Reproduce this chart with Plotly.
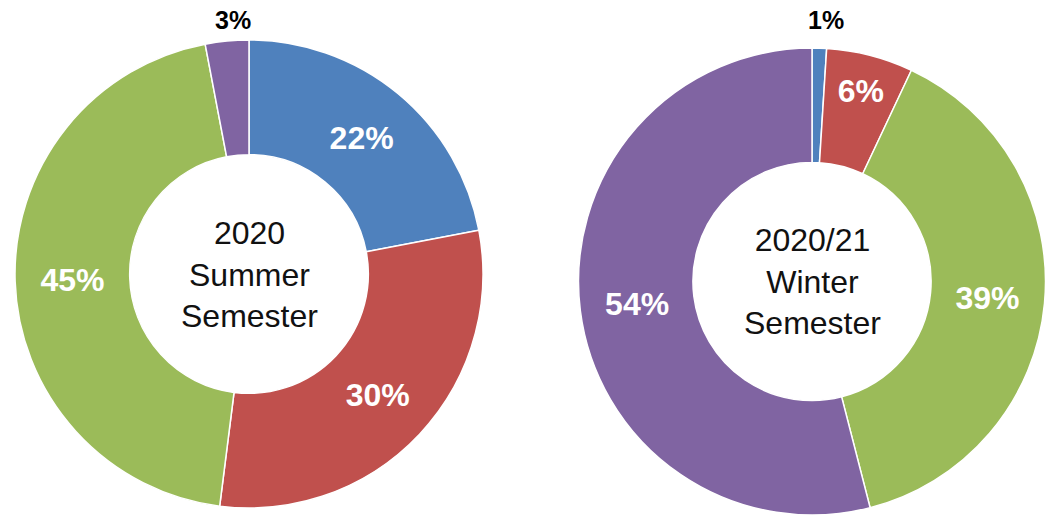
import plotly.graph_objects as go

categories = ["Blue", "Red", "Green", "Purple"]
summer_2020 = [22, 30, 45, 3]
winter_2020_21 = [1, 6, 39, 54]
summer_title = "2020<br>Summer<br>Semester"
winter_title = "2020/21<br>Winter<br>Semester"

colors = ["#4F81BD", "#C0504D", "#9BBB59", "#8064A2"]
FONT = "Liberation Sans, Arial, sans-serif"

W, H = 1046, 515
left_dom = dict(x=[0.01434, 0.46176], y=[0.0136, 0.9223])
right_dom = dict(x=[0.5526, 1.0], y=[0.0, 0.9068])

def donut(vals, dom, outside_idx):
    pos = ["inside"] * len(vals)
    tmpl = ["%{value}%"] * len(vals)
    for i in outside_idx:
        pos[i] = "none"
        tmpl[i] = ""
    return go.Pie(
        labels=categories, values=vals, domain=dom, hole=0.51,
        sort=False, direction="clockwise", rotation=0,
        marker=dict(colors=colors, line=dict(color="white", width=1.5)),
        texttemplate=tmpl, textposition=pos,
        insidetextorientation="horizontal",
        insidetextfont=dict(family=FONT, size=32, color="white", weight="bold"),
        showlegend=False, hoverinfo="label+percent",
    )

fig = go.Figure()
fig.add_trace(donut(summer_2020, left_dom, [3]))
fig.add_trace(donut(winter_2020_21, right_dom, [0]))

for dom, txt in [(left_dom, summer_title), (right_dom, winter_title)]:
    fig.add_annotation(
        x=sum(dom["x"]) / 2, y=sum(dom["y"]) / 2, xref="paper", yref="paper",
        text=txt, showarrow=False, xanchor="center", yanchor="middle",
        font=dict(family=FONT, size=32, color="#111111"),
    )

# small-slice labels shown above the rings
for xpos, val in [(0.2228, summer_2020[3]), (0.7897, winter_2020_21[0])]:
    fig.add_annotation(
        x=xpos, y=0.962, xref="paper", yref="paper",
        text=f"<b>{val}%</b>", showarrow=False, xanchor="center", yanchor="middle",
        font=dict(family=FONT, size=25, color="black"),
    )

fig.update_layout(
    width=W, height=H, margin=dict(l=0, r=0, t=0, b=0),
    paper_bgcolor="white", plot_bgcolor="white",
)
fig.write_html("out.html")
